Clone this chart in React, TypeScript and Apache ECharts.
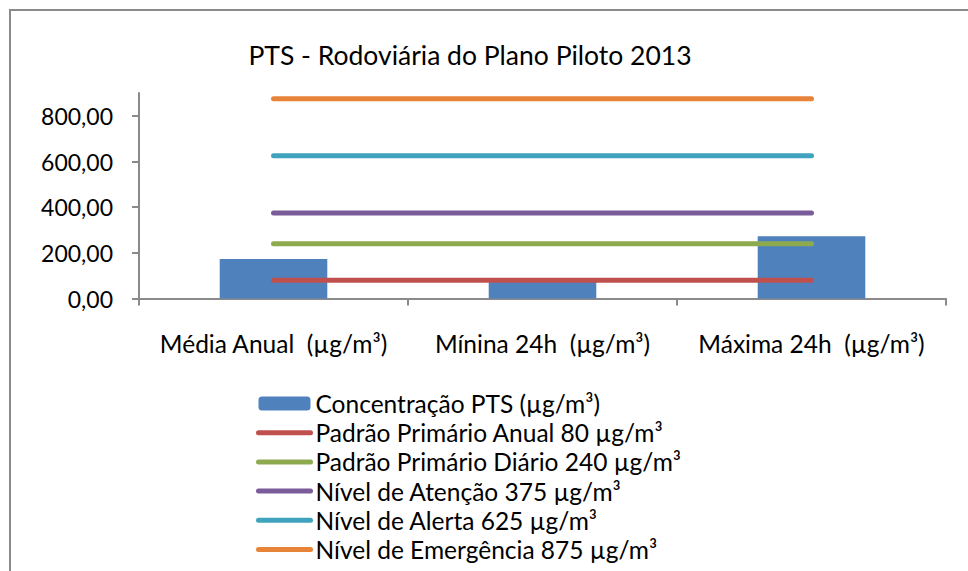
import React, { useEffect, useRef } from "react";
import * as echarts from "echarts";

const titleText = "PTS - Rodoviária do Plano Piloto 2013";
const categories = ["Média Anual  (µg/m³)", "Mínina 24h  (µg/m³)", "Máxima 24h  (µg/m³)"];
const concentrationName = "Concentração PTS (µg/m³)";
const concentration = [173, 76, 273];
const standardNames = [
  "Padrão Primário Anual 80 µg/m³",
  "Padrão Primário Diário 240 µg/m³",
  "Nível de Atenção 375 µg/m³",
  "Nível de Alerta 625 µg/m³",
  "Nível de Emergência 875 µg/m³",
];
const standardValues = [80, 240, 375, 625, 875];
const standardColors = ["#C0504D", "#8DAA4F", "#7A5C9A", "#3FA3BE", "#E8843A"];
const yTicks = [0, 200, 400, 600, 800];

const FONT = "Lato";

export default function App() {
  const ref = useRef<HTMLDivElement>(null);
  useEffect(() => {
    if (!ref.current) return;
    const chart = echarts.init(ref.current, null, { renderer: "svg" });
    const lineSeries = standardNames.map((name, i) => ({
      name,
      type: "line",
      data: categories.map(() => standardValues[i]),
      symbol: "none",
      itemStyle: { color: standardColors[i] },
      lineStyle: { color: standardColors[i], width: 5, cap: "round" },
      z: 3,
    }));
    chart.setOption({
      animation: false,
      backgroundColor: "#ffffff",
      textStyle: { fontFamily: FONT },
      graphic: [
        {
          type: "rect",
          shape: { x: 10, y: 10, width: 1000, height: 600 },
          style: { fill: "none", stroke: "#8a8a8a", lineWidth: 2 },
          z: -1,
        },
        {
          type: "text",
          x: 470,
          y: 55,
          style: {
            text: titleText,
            fontFamily: FONT,
            fontSize: 26.5,
            fill: "#000",
            textAlign: "center",
            textVerticalAlign: "middle",
          },
        },
      ],
      grid: { left: 139, right: 22, top: 93, bottom: 571 - 298.5 },
      legend: {
        orient: "vertical",
        left: 251,
        top: 386,
        height: 400,
        itemWidth: 52,
        itemHeight: 14,
        itemGap: 4.2,
        lineStyle: { width: 5, cap: "round" },
        textStyle: { fontFamily: FONT, fontSize: 24.5, lineHeight: 24, color: "#000" },
        data: [
          { name: concentrationName },
          ...standardNames.map((n) => ({ name: n, itemStyle: { opacity: 0 } })),
        ],
      },
      xAxis: {
        type: "category",
        data: categories,
        boundaryGap: true,
        axisLine: { lineStyle: { color: "#8a8a8a", width: 2 } },
        axisTick: { show: true, length: 7, lineStyle: { color: "#8a8a8a", width: 2 } },
        axisLabel: {
          interval: 0,
          hideOverlap: false,
          fontFamily: FONT,
          fontSize: 24.5,
          lineHeight: 24,
          color: "#000",
          margin: 33,
        },
      },
      yAxis: {
        type: "value",
        min: 0,
        max: 900,
        interval: 100,
        splitLine: { show: false },
        axisLine: { show: true, lineStyle: { color: "#8a8a8a", width: 2 } },
        axisTick: {
          show: true,
          length: 7,
          customValues: yTicks,
          lineStyle: { color: "#8a8a8a", width: 2 },
        },
        axisLabel: {
          fontFamily: FONT,
          fontSize: 23,
          color: "#000",
          margin: 26,
          customValues: yTicks,
          formatter: (v: number) => v.toFixed(2).replace(".", ","),
        },
      },
      series: [
        {
          name: concentrationName,
          type: "bar",
          data: concentration,
          barWidth: "40%",
          itemStyle: { color: "#4F81BD" },
          z: 2,
        },
        ...lineSeries,
      ],
    });
    return () => chart.dispose();
  }, []);
  return (
    <div
      ref={ref}
      style={{ position: "fixed", left: 0, top: 0, width: 968, height: 571, background: "#fff" }}
    />
  );
}
